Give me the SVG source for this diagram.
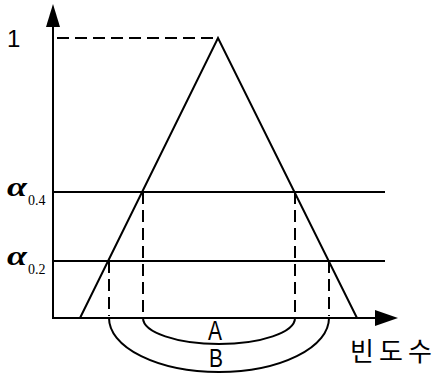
<svg xmlns="http://www.w3.org/2000/svg" width="435" height="376" viewBox="0 0 435 376">
<style>
.ln{stroke:#000;stroke-width:2;fill:none}
.ds{stroke:#000;stroke-width:2;fill:none;stroke-dasharray:12 6}
.ah{fill:#000;stroke:none}
.sans{font-family:"Liberation Sans",Arial,sans-serif;fill:#000}
.ser{font-family:"Liberation Serif","Times New Roman",serif;fill:#000}
.kr{font-family:"Noto Sans CJK KR","Noto Sans",sans-serif;fill:#000}
</style>
<rect width="435" height="376" fill="#fff"/>
<g id="axes">
<line class="ln" x1="53" y1="319" x2="53" y2="24"/>
<polygon class="ah" points="53,4 60,27 46,27"/>
<line class="ln" x1="53" y1="318" x2="378" y2="318"/>
<polygon class="ah" points="398,318 375,310 375,326"/>
</g>
<g id="levels">
<line class="ln" x1="53" y1="192" x2="385" y2="192"/>
<line class="ln" x1="53" y1="261" x2="385" y2="261"/>
</g>
<g id="triangle">
<polyline class="ln" points="80,318 218,38 357,318"/>
<line class="ds" x1="57" y1="38" x2="218" y2="38" stroke-dasharray="15 7"/>
</g>
<g id="connectors">
<line class="ds" x1="143" y1="192" x2="143" y2="316"/>
<line class="ds" x1="295" y1="192" x2="295" y2="316"/>
<line class="ds" x1="109" y1="261" x2="109" y2="316"/>
<line class="ds" x1="329" y1="261" x2="329" y2="316"/>
<path class="ln" d="M143,318 A76,26 0 0 0 295,318"/>
<path class="ln" d="M109,318 A110,54 0 0 0 329,318"/>
</g>
<g id="labels">
<text class="sans" x="7" y="47" font-size="24">1</text>
<text class="ser" x="7" y="196" font-size="27" font-style="italic" font-weight="bold" textLength="20" lengthAdjust="spacingAndGlyphs">α</text>
<text class="ser" x="28" y="205" font-size="14">0.4</text>
<text class="ser" x="7" y="265" font-size="27" font-style="italic" font-weight="bold" textLength="20" lengthAdjust="spacingAndGlyphs">α</text>
<text class="ser" x="28" y="274" font-size="14">0.2</text>
<text class="sans" x="208" y="340" font-size="27" textLength="14" lengthAdjust="spacingAndGlyphs">A</text>
<text class="sans" x="209" y="367" font-size="25" textLength="14" lengthAdjust="spacingAndGlyphs">B</text>
<text class="kr" x="350" y="361" font-size="26" textLength="82" lengthAdjust="spacing">빈도수</text>
</g>
</svg>
